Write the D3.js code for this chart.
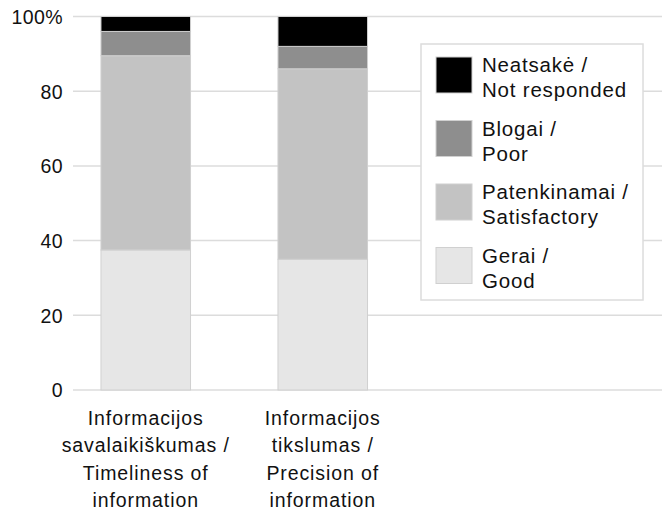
<!DOCTYPE html>
<html><head><meta charset="utf-8">
<script src="https://cdn.jsdelivr.net/npm/d3@7"></script>
<style>body{margin:0;background:#fff}svg{display:block}text{font-family:"Liberation Sans",Helvetica,Arial,sans-serif;fill:#111}</style>
</head><body>
<script>
const categories = [
  ["Informacijos","savalaikiškumas /","Timeliness of","information"],
  ["Informacijos","tikslumas /","Precision of","information"]
];
const seriesNames = ["Gerai / Good","Patenkinamai / Satisfactory","Blogai / Poor","Neatsakė / Not responded"];
const legendLines = [["Neatsakė /","Not responded"],["Blogai /","Poor"],["Patenkinamai /","Satisfactory"],["Gerai /","Good"]];
const good = [37.5, 35];
const satisfactory = [52, 51];
const poor = [6.5, 6];
const notResponded = [4, 8];
const yTicks = [0,20,40,60,80,100];
const colors = ["#e6e6e6","#c3c3c3","#8e8e8e","#000000"];

const W=662,H=520;
const svg=d3.select("body").append("svg").attr("width",W).attr("height",H);
const y=d3.scaleLinear().domain([0,100]).range([390,16.5]);
const x=d3.scaleBand().domain([0,1]).range([73,395.5]).paddingInner(0.494).paddingOuter(0.158);

// gridlines
svg.append("g").selectAll("line").data(yTicks).join("line")
  .attr("x1",73).attr("x2",W).attr("y1",d=>y(d)).attr("y2",d=>y(d))
  .attr("stroke","#dcdcdc").attr("stroke-width",1.5);
svg.append("g").selectAll("text").data(yTicks).join("text")
  .attr("x",63).attr("y",d=>y(d)).attr("dy","0.38em").attr("text-anchor","end")
  .attr("font-size",19.5).attr("letter-spacing",0.4).text(d=>d===100?"100%":d);

const rows=[good,satisfactory,poor,notResponded];
const data=categories.map((c,i)=>{const o={i};rows.forEach((r,k)=>o[k]=r[i]);return o;});
const stack=d3.stack().keys([0,1,2,3])(data);
svg.append("g").selectAll("g").data(stack).join("g").attr("fill",(d,k)=>colors[k])
  .selectAll("rect").data(d=>d).join("rect")
  .attr("x",d=>x(d.data.i)).attr("width",x.bandwidth())
  .attr("y",d=>y(d[1])).attr("height",d=>y(d[0])-y(d[1]))
  .attr("stroke","#d0d0d0").attr("stroke-width",1);

// category labels
categories.forEach((lines,i)=>{
  const t=svg.append("text").attr("text-anchor","middle").attr("font-size",19.5).attr("letter-spacing",0.9);
  lines.forEach((l,j)=>t.append("tspan").attr("x",x(i)+x.bandwidth()/2).attr("y",425+j*27.3).text(l));
});

// legend
const lg=svg.append("g");
lg.append("rect").attr("x",421).attr("y",44).attr("width",222).attr("height",256)
  .attr("fill","#fff").attr("stroke","#dcdcdc").attr("stroke-width",1.5);
const legColors=[colors[3],colors[2],colors[1],colors[0]];
legendLines.forEach((ls,k)=>{
  const y0=57+k*63.5;
  lg.append("rect").attr("x",436).attr("y",y0).attr("width",36).attr("height",36)
    .attr("fill",legColors[k]).attr("stroke","#d0d0d0").attr("stroke-width",1);
  const t=lg.append("text").attr("font-size",20.5).attr("letter-spacing",0.8);
  ls.forEach((l,j)=>t.append("tspan").attr("x",482).attr("y",y0+15+j*25).text(l));
});
</script>
</body></html>
